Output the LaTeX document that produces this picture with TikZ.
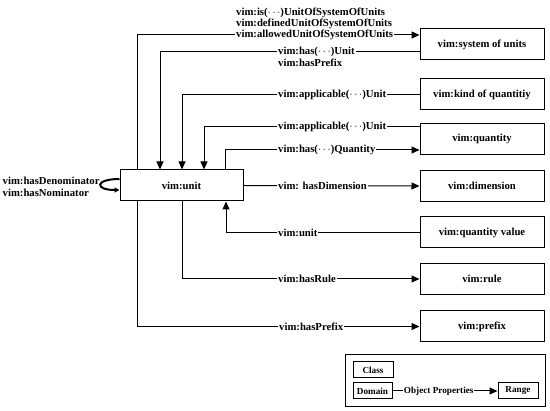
\documentclass[tikz,border=0pt]{standalone}
\usepackage{fontspec}
\setmainfont{Liberation Serif}
\usetikzlibrary{arrows.meta}

\begin{document}
\begin{tikzpicture}[x=1pt,y=-1pt,font=\fontsize{10.7}{11}\selectfont\bfseries,
  cls/.style={draw,line width=1pt,minimum width=124pt,minimum height=31pt,inner sep=0pt},
  legcls/.style={draw,line width=1pt,minimum width=40pt,minimum height=16pt,inner sep=0pt,font=\fontsize{9.2}{10}\selectfont\bfseries},
  link/.style={line width=1pt,-{Triangle[length=8pt,width=7pt]}},
  lbl/.style={fill=white,inner xsep=1pt,inner ysep=0pt,anchor=west}]
  \useasboundingbox (0,0) rectangle (550,411);
  % classes
  \node[cls,minimum width=123pt] (unit) at (181.5,185.5) {vim:unit};
  \node[cls] (sou) at (482,44.5) {vim:system of units};
  \node[cls] (koq) at (482,94.5) {vim:kind of quantitiy};
  \node[cls] (qty) at (482,139) {vim:quantity};
  \node[cls] (dim) at (482,186) {vim:dimension};
  \node[cls] (qv) at (482,232.5) {vim:quantity value};
  \node[cls] (rule) at (482,279) {vim:rule};
  \node[cls] (prefix) at (482,326.5) {vim:prefix};
  % object properties
  \draw[link] (unit.north -| 137,0) |- (sou.west |- 0,35);
  \draw[link] (sou.west |- 0,52) -| (unit.north -| 160,0);
  \draw[link] (koq.west) -| (unit.north -| 182,0);
  \draw[link] (qty.west |- 0,127) -| (unit.north -| 204,0);
  \draw[link] (unit.north -| 225,0) |- (qty.west |- 0,150);
  \draw[link] (unit.east) -- (dim.west);
  \draw[link] (qv.west) -| (unit.south -| 226,0);
  \draw[link] (unit.south -| 182,0) |- (rule.west);
  \draw[link] (unit.south -| 137,0) |- (prefix.west);
  \draw[line width=2pt,-{Triangle[length=5pt,width=5pt]}] ([yshift=6.5pt]unit.west)
    .. controls +(-25,0) and +(-25,0) .. ([yshift=-4.5pt]unit.west);
  % labels
  \node[lbl] (isu) at (235,13) {vim:is($\cdots$)UnitOfSystemOfUnits};
  \node[lbl] (dsu) at (235,24) {vim:definedUnitOfSystemOfUnits};
  \node[lbl] (asu) at (235,35) {vim:allowedUnitOfSystemOfUnits};
  \node[lbl] (hu) at (277,52) {vim:has($\cdots$)Unit};
  \node[lbl] (hp1) at (277,63) {vim:hasPrefix};
  \node[lbl] (au1) at (277,94.5) {vim:applicable($\cdots$)Unit};
  \node[lbl] (au2) at (277,127) {vim:applicable($\cdots$)Unit};
  \node[lbl] (hq) at (277,150) {vim:has($\cdots$)Quantity};
  \node[lbl] (hd) at (277,186) {vim: hasDimension};
  \node[lbl] (vu) at (277,232.5) {vim:unit};
  \node[lbl] (hr) at (277,279) {vim:hasRule};
  \node[lbl] (hp2) at (278,326.5) {vim:hasPrefix};
  \node[anchor=west,inner sep=0pt] (hden) at (2.5,181) {vim:hasDenominator};
  \node[anchor=west,inner sep=0pt] (hnom) at (2.5,193) {vim:hasNominator};
  % legend
  \draw[line width=1pt] (345,355) rectangle (545,407);
  \node[legcls] (class) at (373,370) {Class};
  \node[legcls,minimum width=39pt] (domain) at (372.5,391) {Domain};
  \node[legcls] (range) at (518,391) {Range};
  \draw[link] (domain) -- node[pos=0.44,fill=white,inner sep=1pt,font=\fontsize{9.2}{10}\selectfont\bfseries] (op) {Object Properties} (range);
\end{tikzpicture}
\end{document}
